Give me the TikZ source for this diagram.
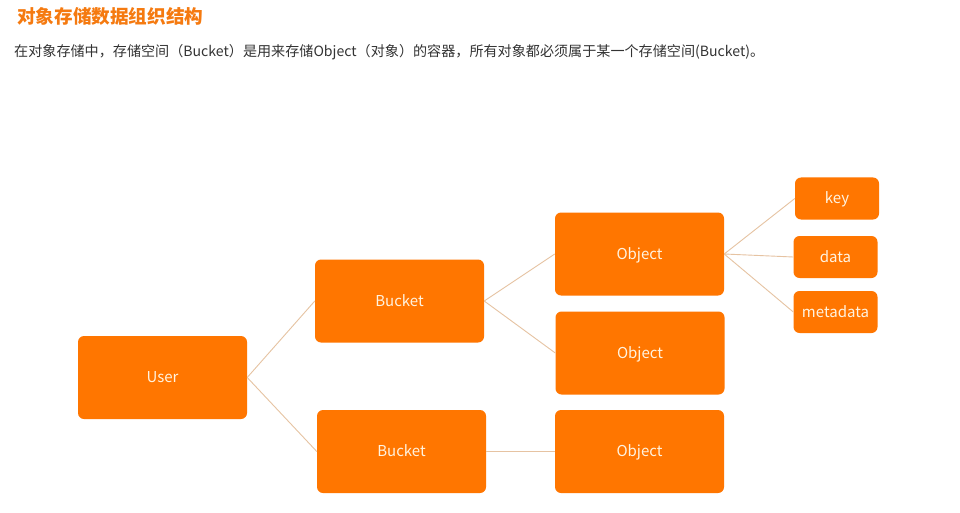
\documentclass[tikz,border=0pt]{standalone}
\usepackage{fontspec}
\setmainfont{Noto Sans CJK SC}
\definecolor{boxorange}{HTML}{FF7600}
\definecolor{titleorange}{HTML}{F57A10}
\definecolor{linktan}{HTML}{E6C3A2}
\definecolor{bodygrey}{HTML}{333333}
\definecolor{boxtext}{HTML}{FFF3E0}
\begin{document}
\begin{tikzpicture}[x=1pt,y=-1pt,
  box/.style={fill=boxorange,draw=none,rounded corners=6pt,text=boxtext,font=\fontsize{15}{17}\selectfont,inner sep=0pt,text height=10pt,text depth=0pt},
  bigbox/.style={box,minimum width=169pt,minimum height=83pt},
  smallbox/.style={box,minimum width=84pt,minimum height=42pt},
  link/.style={draw=linktan,line width=0.9pt}]
\useasboundingbox (0,0) rectangle (960,513);
\fill[white] (0,0) rectangle (960,513);
\node[anchor=west,text=titleorange,font=\fontsize{18.6}{21}\selectfont\bfseries,inner sep=0pt] (title) at (17,16) {对象存储数据组织结构};
\node[anchor=west,text=bodygrey,font=\fontsize{14.1}{16}\selectfont,inner sep=0pt] (desc) at (14,52) {在对象存储中，存储空间（Bucket）是用来存储Object（对象）的容器，所有对象都必须属于某一个存储空间(Bucket)。};
\node[bigbox] (user) at (162.5,377.5) {User};
\node[bigbox] (b1) at (399.5,301) {Bucket};
\node[bigbox] (b2) at (401.5,451.5) {Bucket};
\node[bigbox] (o1) at (639.5,254) {Object};
\node[bigbox] (o2) at (640,353) {Object};
\node[bigbox] (o3) at (639.5,451.5) {Object};
\node[smallbox] (key) at (837,198.5) {key};
\node[smallbox] (data) at (835.5,257) {data};
\node[smallbox] (meta) at (835.5,312) {metadata};
\draw[link] (user.east) -- (b1.west);
\draw[link] (user.east) -- (b2.west);
\draw[link] (b1.east) -- (o1.west);
\draw[link] (b1.east) -- (o2.west);
\draw[link] (b2.east) -- (o3.west);
\draw[link] (o1.east) -- (key.west);
\draw[link] (o1.east) -- (data.west);
\draw[link] (o1.east) -- (meta.west);
\end{tikzpicture}
\end{document}
